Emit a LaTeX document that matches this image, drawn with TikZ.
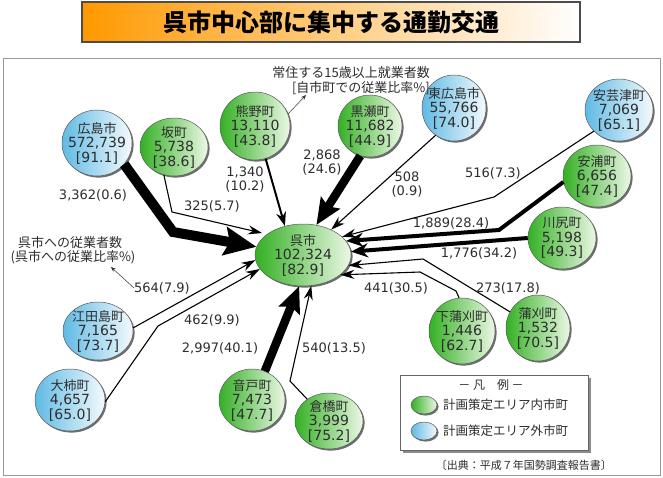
\documentclass[tikz,border=0pt]{standalone}
\usepackage{fontspec}
\setmainfont{Noto Sans CJK JP}
\newfontfamily\numf{DejaVu Sans}
\usetikzlibrary{arrows.meta,shapes.geometric}
\definecolor{gL}{RGB}{52,176,36}
\definecolor{gR}{RGB}{236,248,230}
\definecolor{bL}{RGB}{96,186,228}
\definecolor{bR}{RGB}{244,250,253}
\definecolor{txt}{RGB}{45,45,45}
\definecolor{orng}{RGB}{255,153,0}
\definecolor{shc}{RGB}{110,110,110}
\newcommand\jp{\rmfamily\fontsize{13}{14.5}\selectfont}
\newcommand\bub[7]{%
  \fill[shc] (#2+1.6,#3+1.6) ellipse [x radius=#4pt, y radius=#5pt];
  \node[#6, minimum width=2*#4pt, minimum height=2*#5pt] (#1) at (#2,#3) {};
  \node[ntext] (#1-t) at (#1) {#7};}
\begin{document}
\begin{tikzpicture}[x=1pt,y=-1pt,
  gnode/.style={ellipse, draw=black!65, line width=0.5pt, left color=gL, right color=gR, inner sep=0pt},
  bnode/.style={ellipse, draw=black!65, line width=0.5pt, left color=bL, right color=bR, inner sep=0pt},
  ntext/.style={font=\numf\fontsize{14}{14.5}\selectfont, align=center, text=txt, inner sep=0pt},
  lab/.style={font=\numf\fontsize{13}{14}\selectfont, align=center, text=txt, inner sep=0pt},
  jlab/.style={font=\rmfamily\fontsize{13}{14}\selectfont, align=center, text=txt, inner sep=0pt},
  thinarr/.style={line width=1.1pt, -{Stealth[length=14pt,width=9pt]}},
  medarr/.style={line width=2pt, -{Stealth[length=14pt,width=10pt]}},
  widearr/.style={line width=4pt, -{Stealth[length=17pt,width=14pt]}},
  bigarr/.style={line width=8.5pt, -{Stealth[length=26pt,width=22pt,inset=4pt]}},
  hugearr/.style={line width=10pt, -{Stealth[length=32pt,width=28pt,inset=5pt]}},
  ptr/.style={line width=0.5pt, black!80, -{Stealth[length=5pt,width=4pt]}}
]
\useasboundingbox (0,0) rectangle (663,477);
\fill[white] (0,0) rectangle (663,477);
% title
\node[draw=black!70, line width=1.2pt, minimum width=498pt, minimum height=40pt, inner sep=0pt,
  left color=orng, middle color=orng!30, right color=white] (title) at (331,22)
  {\bfseries\fontsize{24}{24}\selectfont 呉市中心部に集中する通勤交通};
% frame
\draw[black!40, line width=0.8pt] (3,58) rectangle (660,475);
% nodes
\bub{kure}{303}{255}{48}{31}{gnode}{{\jp 呉市}\\102,324\\{[82.9]}}
\bub{hiroshima}{97}{143}{35}{33}{bnode}{{\jp 広島市}\\572,739\\{[91.1]}}
\bub{saka}{174}{147}{34}{29}{gnode}{{\jp 坂町}\\5,738\\{[38.6]}}
\bub{kumano}{255}{126}{35}{34}{gnode}{{\jp 熊野町}\\13,110\\{[43.8]}}
\bub{kurose}{370}{126}{32}{31}{gnode}{{\jp 黒瀬町}\\11,682\\{[44.9]}}
\bub{higashi}{454}{108}{32}{33}{bnode}{{\jp 東広島市}\\55,766\\{[74.0]}}
\bub{akitsu}{619}{110}{34}{31}{bnode}{{\jp 安芸津町}\\7,069\\{[65.1]}}
\bub{yasuura}{597}{176}{34}{31}{gnode}{{\jp 安浦町}\\6,656\\{[47.4]}}
\bub{kawajiri}{562}{238}{34}{31}{gnode}{{\jp 川尻町}\\5,198\\{[49.3]}}
\bub{shimo}{462}{331}{33}{33}{gnode}{{\jp 下蒲刈町}\\1,446\\{[62.7]}}
\bub{kamagari}{538}{328}{32}{33}{gnode}{{\jp 蒲刈町}\\1,532\\{[70.5]}}
\bub{etajima}{98}{331}{35}{29}{bnode}{{\jp 江田島町}\\7,165\\{[73.7]}}
\bub{ogaki}{70}{400}{35}{31}{bnode}{{\jp 大柿町}\\4,657\\{[65.0]}}
\bub{ondo}{252}{400}{33}{31}{gnode}{{\jp 音戸町}\\7,473\\{[47.7]}}
\bub{kurahashi}{329}{421}{34}{28}{gnode}{{\jp 倉橋町}\\3,999\\{[75.2]}}
% bend points
\coordinate (hb) at (173,232);
\coordinate (sb) at (172,212);
\coordinate (ab) at (494,197);
\coordinate (yb) at (499,230);
\coordinate (kb) at (423,259);
\coordinate (s1) at (456,291);
\coordinate (s2) at (420,272);
\coordinate (cb) at (290,381);
\coordinate (ob) at (158,326);
% connectors
\draw[hugearr] (hiroshima.-38) -- (hb) -- (kure.170);
\draw[thinarr, shorten >=5pt] (saka.-110) -- (sb) -- (kure.150);
\draw[medarr] (kumano.-72) -- (kure.122);
\draw[bigarr] (kurose.-108) -- (kure.66);
\draw[thinarr] (higashi.-124) -- (kure.42);
\draw[thinarr] (akitsu.-140) -- (ab) -- (kure.25);
\draw[widearr] (yasuura.190) -- (yb) -- (kure.18);
\draw[widearr] (kawajiri.180) -- (kure.4);
\draw[thinarr] (kamagari.150) -- (kb) -- (kure.-13);
\draw[thinarr] (shimo.95) -- (s1) -- (s2) -- (kure.-28);
\draw[thinarr] (kurahashi.135) -- (cb) -- (kure.-75);
\draw[bigarr] (ondo.66) -- (kure.-97);
\draw[thinarr] (ogaki.-3) -- (ob) -- (kure.198);
\draw[thinarr] (etajima.5) -- (kure.186);
% labels
\node[lab] (l3362) at (93,195) {3,362(0.6)};
\node[lab] (l325) at (212,206) {325(5.7)};
\node[lab] (l1340) at (245,180) {1,340\\(10.2)};
\node[lab] (l2868) at (322,163) {2,868\\(24.6)};
\node[lab] (l508) at (407,185) {508\\(0.9)};
\node[lab] (l516) at (493,173) {516(7.3)};
\node[lab] (l1889) at (451,223) {1,889(28.4)};
\node[lab] (l1776) at (479,253) {1,776(34.2)};
\node[lab] (l441) at (396,288) {441(30.5)};
\node[lab] (l273) at (508,288) {273(17.8)};
\node[lab] (l564) at (162,288) {564(7.9)};
\node[lab] (l462) at (212,320) {462(9.9)};
\node[lab] (l2997) at (220,348) {2,997(40.1)};
\node[lab] (l540) at (334,348) {540(13.5)};
\node[jlab, anchor=east] (note1) at (430,73) {常住する15歳以上就業者数};
\node[jlab, anchor=east] (note2) at (430,88) {[自市町での従業比率\%]};
\node[jlab] (note3) at (70,243) {呉市への従業者数};
\node[jlab] (note4) at (73,257) {(呉市への従業比率\%)};
% pointers
\coordinate (p1) at (306,95);
\draw[ptr] (kumano.20) -- (p1);
\coordinate (p2) at (111,267);
\draw[ptr] (l564.west) -- (p2);
% legend
\fill[black!45] (403,378) rectangle (591,453);
\node[draw=black!60, fill=white, minimum width=188pt, minimum height=75pt, inner sep=0pt] (legend) at (494,412.5) {};
\node[jlab, font=\rmfamily\fontsize{12}{12}\selectfont] (legt) at (491,385) {－ 凡　例 －};
\bub{lg}{424}{405}{13}{9}{gnode}{}
\bub{lb}{424}{431}{13}{9}{bnode}{}
\node[jlab, anchor=west, font=\rmfamily\fontsize{12.5}{13}\selectfont] (lgt) at (443,405) {計画策定エリア内市町};
\node[jlab, anchor=west, font=\rmfamily\fontsize{12.5}{13}\selectfont] (lbt) at (443,431) {計画策定エリア外市町};
\node[jlab, anchor=east, font=\rmfamily\fontsize{11}{11}\selectfont] (src) at (612,465) {〔出典：平成７年国勢調査報告書〕};
\end{tikzpicture}
\end{document}
